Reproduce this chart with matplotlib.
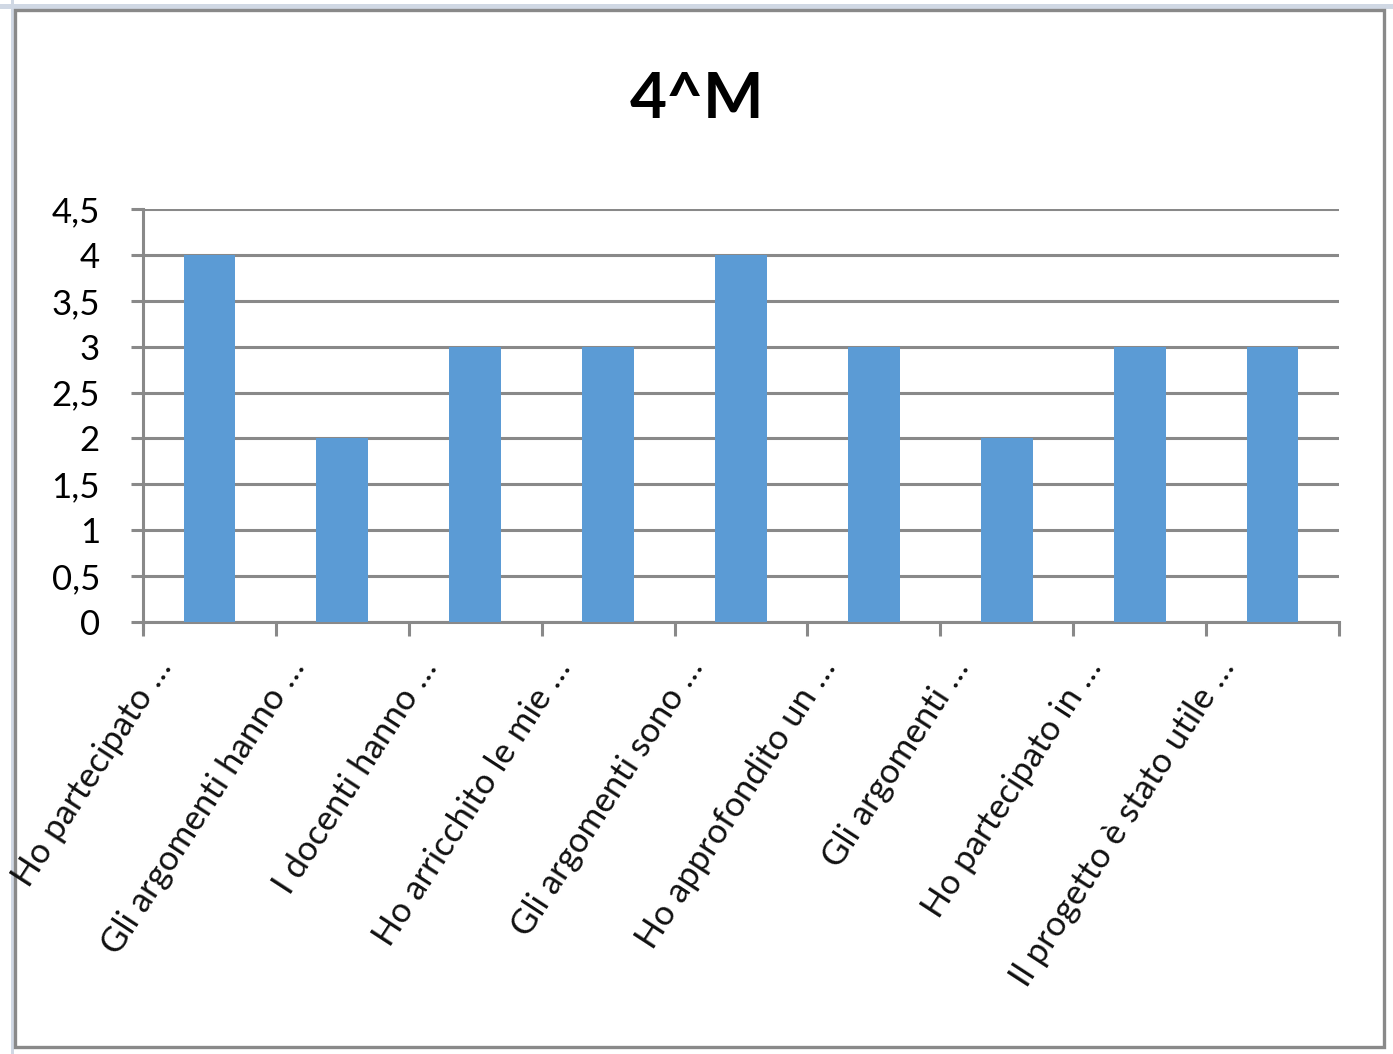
import matplotlib.pyplot as plt
from matplotlib.patches import Rectangle
from matplotlib.ticker import FixedLocator, FuncFormatter
import matplotlib.transforms as mtransforms

plt.rcParams['font.family'] = ['Lato', 'DejaVu Sans']

title = "4^M"
labels = [
    "Ho partecipato …",
    "Gli argomenti hanno …",
    "I docenti hanno …",
    "Ho arricchito le mie …",
    "Gli argomenti sono …",
    "Ho approfondito un …",
    "Gli argomenti …",
    "Ho partecipato in …",
    "Il progetto è stato utile …",
]
values = [4, 2, 3, 3, 4, 3, 2, 3, 3]
yticks = [0, 0.5, 1, 1.5, 2, 2.5, 3, 3.5, 4, 4.5]

grid_col = "#898989"
bar_col = "#5B9BD5"

fig = plt.figure(figsize=(13.93, 10.54), dpi=100)
W, H = 1393, 1054

# spreadsheet background strips and chart frame
fig.patches.append(Rectangle((11 / W, 0), 3 / W, 1, transform=fig.transFigure,
                             facecolor="#D0D8E4", edgecolor="none", zorder=0))
fig.patches.append(Rectangle((0, 1 - 9 / H), 1, 5 / H, transform=fig.transFigure,
                             facecolor="#D0D8E4", edgecolor="none", zorder=0))
fig.patches.append(Rectangle((15 / W, 1 - 1047 / H), 1369 / W, 1037 / H,
                             transform=fig.transFigure, facecolor="white",
                             edgecolor=grid_col, linewidth=2.4, zorder=1))

ax = fig.add_axes([143 / W, 1 - 622 / H, (1339 - 143) / W, (622 - 209) / H])
ax.set_zorder(2)
ax.patch.set_alpha(0)

x = list(range(len(values)))
ax.bar(x, values, width=0.39, color=bar_col, zorder=3)

ax.set_xlim(-0.5, len(values) - 0.5)
ax.set_ylim(0, 4.5)

ax.set_yticks(yticks)
ax.yaxis.set_major_formatter(FuncFormatter(lambda v, p: f"{v:g}".replace(".", ",")))
ax.grid(axis="y", color=grid_col, linewidth=2.2, zorder=1)
ax.tick_params(axis="y", length=9, width=2.2, color=grid_col, labelsize=25, pad=22)

for s in ["top", "right"]:
    ax.spines[s].set_visible(False)
ax.spines["left"].set_color(grid_col)
ax.spines["left"].set_linewidth(2.2)
ax.spines["left"].set_bounds(-0.08, 4.5)
ax.spines["bottom"].set_color(grid_col)
ax.spines["bottom"].set_linewidth(2.2)

# category boundary ticks on x
ax.xaxis.set_major_locator(FixedLocator([i - 0.5 for i in range(len(values) + 1)]))
ax.xaxis.set_major_formatter(FuncFormatter(lambda v, p: ""))
ax.tick_params(axis="x", length=10, width=2.2, color=grid_col)

offset = mtransforms.ScaledTranslation(-0.45, -0.40, fig.dpi_scale_trans)
for i, lab in enumerate(labels):
    ax.text(i, 0, lab, rotation=57, ha="right", va="center", rotation_mode="anchor",
            fontsize=25, color="#111111",
            transform=ax.get_xaxis_transform() + offset)

fig.text(697 / W, 1 - 100 / H, title, ha="center", va="center",
         fontsize=46, fontweight="bold", zorder=3)

fig.savefig("out.png", dpi=100)
